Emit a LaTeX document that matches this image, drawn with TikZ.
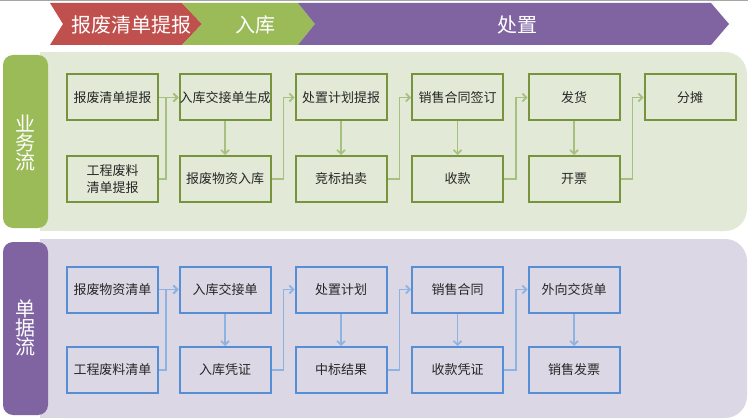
\documentclass[tikz,border=0pt]{standalone}
\usepackage{fontspec}
\setmainfont{Noto Sans CJK SC}
\usetikzlibrary{arrows.meta}
\definecolor{cred}{HTML}{C0504D}
\definecolor{cgreen}{HTML}{9BBB59}
\definecolor{cpurple}{HTML}{8064A2}
\definecolor{panelg}{HTML}{E2EAD7}
\definecolor{panelp}{HTML}{DCD7E5}
\definecolor{boxg}{HTML}{77933C}
\definecolor{cong}{HTML}{A6C080}
\definecolor{boxb}{HTML}{558ED5}
\definecolor{conb}{HTML}{8DB3E2}
\definecolor{txt}{HTML}{262626}
\begin{document}
\begin{tikzpicture}[x=1pt,y=-1pt,
  gbox/.style={draw=boxg, line width=2pt, minimum width=91pt, minimum height=46pt, inner sep=0pt, font=\fontsize{13}{17}\selectfont, align=center, text=txt},
  bbox/.style={gbox, draw=boxb},
  gcon/.style={draw=cong, line width=1.6pt, -{Straight Barb[length=4pt,width=8pt]}},
  bcon/.style={draw=conb, line width=1.6pt, -{Straight Barb[length=4pt,width=8pt]}},
  headtxt/.style={font=\fontsize{20}{24}\selectfont, text=white},
  labtxt/.style={font=\fontsize{20}{19}\selectfont, text=white, align=center}
]
\useasboundingbox (0,0) rectangle (748,420);
\fill[white] (0,0) rectangle (748,420);
\draw[gray!70, line width=1.5pt] (0,0.75) -- (748,0.75);
% header chevrons
\fill[cred] (50,3) -- (182,3) -- (202,24) -- (182,45) -- (50,45) -- (63,24) -- cycle;
\fill[cgreen] (182,3) -- (298,3) -- (315,24) -- (298,45) -- (182,45) -- (202,24) -- cycle;
\fill[cpurple] (298,3) -- (711,3) -- (729,24) -- (711,45) -- (298,45) -- (315,24) -- cycle;
\node[headtxt] (h1) at (131,24.5) {报废清单提报};
\node[headtxt] (h2) at (255,24.5) {入库};
\node[headtxt] (h3) at (517,24.5) {处置};
% panels
\fill[panelg, rounded corners=22pt] (40,52) rectangle (747,231);
\fill[panelg] (40,52) rectangle (120,231);
\fill[panelp, rounded corners=22pt] (40,239) rectangle (747,418);
\fill[panelp] (40,239) rectangle (120,418);
\fill[cgreen, rounded corners=10pt] (3,55) rectangle (48,228);
\fill[cpurple, rounded corners=10pt] (3,242) rectangle (48,415);
\node[labtxt] (l1) at (25.5,143) {业\\务\\流};
\node[labtxt] (l2) at (25.5,328) {单\\据\\流};
% business flow boxes
\node[gbox] (g11) at (112.5,97.5) {报废清单提报};
\node[gbox] (g12) at (112.5,179) {工程废料\\清单提报};
\node[gbox] (g21) at (225,97.5) {入库交接单生成};
\node[gbox] (g22) at (225,179) {报废物资入库};
\node[gbox] (g31) at (341,97.5) {处置计划提报};
\node[gbox] (g32) at (341,179) {竞标拍卖};
\node[gbox] (g41) at (457.5,97.5) {销售合同签订};
\node[gbox] (g42) at (457.5,179) {收款};
\node[gbox] (g51) at (574,97.5) {发货};
\node[gbox] (g52) at (574,179) {开票};
\node[gbox] (g61) at (690,97.5) {分摊};
\draw[gcon] (g11.east) -- (g21.west);
\draw[gcon] (g12.east) -- ++(7,0) |- (g21.west);
\draw[gcon] (g21.south) -- (g22.north);
\draw[gcon] (g22.east) -- ++(12,0) |- (g31.west);
\draw[gcon] (g31.south) -- (g32.north);
\draw[gcon] (g32.east) -- ++(12,0) |- (g41.west);
\draw[gcon] (g41.south) -- (g42.north);
\draw[gcon] (g42.east) -- ++(12,0) |- (g51.west);
\draw[gcon] (g51.south) -- (g52.north);
\draw[gcon] (g52.east) -- ++(12,0) |- (g61.west);
% document flow boxes
\node[bbox] (b11) at (112.5,289.5) {报废物资清单};
\node[bbox] (b12) at (112.5,370) {工程废料清单};
\node[bbox] (b21) at (225,289.5) {入库交接单};
\node[bbox] (b22) at (225,370) {入库凭证};
\node[bbox] (b31) at (341,289.5) {处置计划};
\node[bbox] (b32) at (341,370) {中标结果};
\node[bbox] (b41) at (457.5,289.5) {销售合同};
\node[bbox] (b42) at (457.5,370) {收款凭证};
\node[bbox] (b51) at (574,289.5) {外向交货单};
\node[bbox] (b52) at (574,370) {销售发票};
\draw[bcon] (b11.east) -- (b21.west);
\draw[bcon] (b12.east) -- ++(7,0) |- (b21.west);
\draw[bcon] (b21.south) -- (b22.north);
\draw[bcon] (b22.east) -- ++(12,0) |- (b31.west);
\draw[bcon] (b31.south) -- (b32.north);
\draw[bcon] (b32.east) -- ++(12,0) |- (b41.west);
\draw[bcon] (b41.south) -- (b42.north);
\draw[bcon] (b42.east) -- ++(12,0) |- (b51.west);
\draw[bcon] (b51.south) -- (b52.north);
\end{tikzpicture}
\end{document}
